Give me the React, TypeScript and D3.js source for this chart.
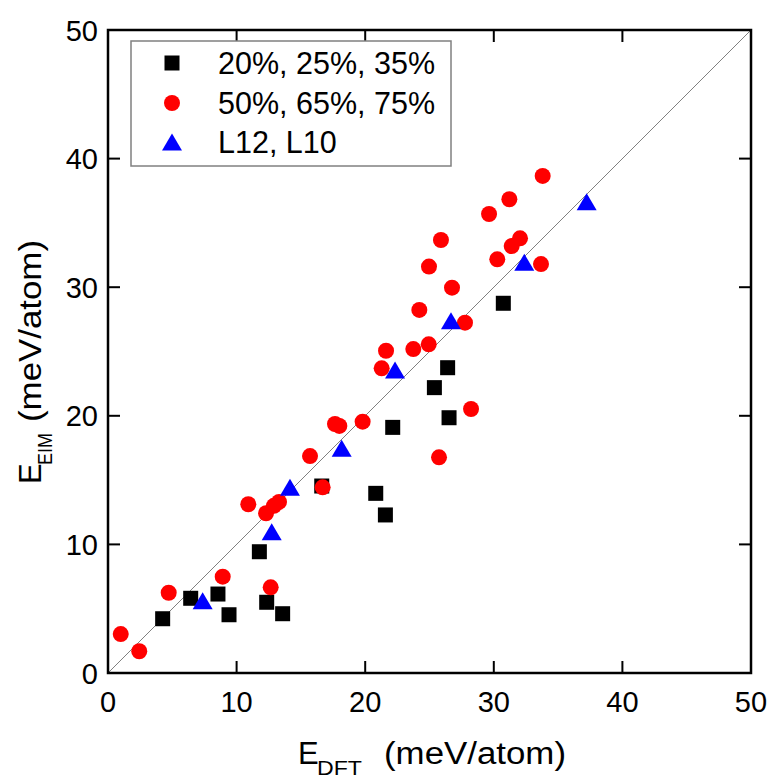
import React from "react";
import * as d3 from "d3";

const squaresX = [4.25, 6.43, 8.55, 9.41, 12.34, 13.58, 11.77, 16.62, 20.82, 21.57, 22.14, 25.38, 26.41, 26.52, 30.74];
const squaresY = [4.22, 5.81, 6.14, 4.53, 5.5, 4.61, 9.43, 14.54, 13.97, 12.29, 19.1, 22.19, 23.74, 19.85, 28.75];

const circlesX = [0.99, 2.43, 4.72, 8.92, 12.65, 12.29, 12.9, 13.3, 10.91, 16.69, 15.71, 17.65, 17.99, 19.8, 21.28, 21.62, 23.74, 24.94, 24.21, 27.76, 28.23, 25.74, 26.75, 24.96, 25.89, 29.63, 31.21, 33.8, 30.27, 31.39, 32.04, 33.67];
const circlesY = [3.03, 1.69, 6.24, 7.49, 6.66, 12.42, 13.0, 13.3, 13.12, 14.44, 16.87, 19.36, 19.21, 19.54, 23.69, 25.06, 25.19, 25.56, 28.23, 27.24, 20.53, 16.77, 29.96, 31.6, 33.67, 35.69, 36.84, 38.65, 32.17, 33.2, 33.8, 31.8];

const trianglesX = [7.36, 12.73, 14.15, 18.17, 22.32, 26.67, 32.37, 37.22];
const trianglesY = [5.62, 10.99, 14.44, 17.47, 23.56, 27.4, 31.94, 36.65];

const ticks = [0, 10, 20, 30, 40, 50];
const legendLabels = ["20%, 25%, 35%", "50%, 65%, 75%", "L12, L10"];

const W = 772;
const H = 779;
const L = 108, R = 751, T = 30, B = 673;
const FONT = "'Liberation Sans', Arial, sans-serif";

function Square({ cx, cy, s = 15 }: { cx: number; cy: number; s?: number }) {
  return <rect x={cx - s / 2} y={cy - s / 2} width={s} height={s} fill="#000" />;
}
function Circle({ cx, cy }: { cx: number; cy: number }) {
  return <circle cx={cx} cy={cy} r={8} fill="#ff0000" />;
}
function Tri({ cx, cy }: { cx: number; cy: number }) {
  const w = 20, h = 17;
  return (
    <path
      d={`M${cx},${cy - h / 2}L${cx + w / 2},${cy + h / 2}L${cx - w / 2},${cy + h / 2}Z`}
      fill="#0000ff"
    />
  );
}

export default function App() {
  const x = d3.scaleLinear().domain([0, 50]).range([L, R]);
  const y = d3.scaleLinear().domain([0, 50]).range([B, T]);
  const tl = 12;
  const diag = d3.line<number>().x((d) => x(d)).y((d) => y(d))([0, 50]) || "";

  const legendY = [63, 103, 142];

  return (
    <svg
      width={W}
      height={H}
      style={{ position: "absolute", left: 0, top: 0, background: "#fff" }}
      fontFamily={FONT}
    >
      <rect x={0} y={0} width={W} height={H} fill="#fff" />
      {/* diagonal */}
      <path d={diag} stroke="#808080" strokeWidth={1} fill="none" />

      {/* markers */}
      {squaresX.map((v, i) => (
        <Square key={"s" + i} cx={x(v)} cy={y(squaresY[i])} />
      ))}
      {circlesX.map((v, i) => (
        <Circle key={"c" + i} cx={x(v)} cy={y(circlesY[i])} />
      ))}
      {trianglesX.map((v, i) => (
        <Tri key={"t" + i} cx={x(v)} cy={y(trianglesY[i])} />
      ))}

      {/* ticks */}
      {ticks.slice(1, -1).map((t) => (
        <g key={"tk" + t} stroke="#000" strokeWidth={2}>
          <line x1={x(t)} x2={x(t)} y1={B} y2={B - tl} />
          <line x1={x(t)} x2={x(t)} y1={T} y2={T + tl} />
          <line x1={L} x2={L + tl} y1={y(t)} y2={y(t)} />
          <line x1={R} x2={R - tl} y1={y(t)} y2={y(t)} />
        </g>
      ))}
      {/* frame */}
      <rect x={L} y={T} width={R - L} height={B - T} fill="none" stroke="#000" strokeWidth={2.5} />

      {/* tick labels */}
      {ticks.map((t) => (
        <text key={"xl" + t} x={x(t)} y={712} fontSize={29} textAnchor="middle" fill="#000">
          {t}
        </text>
      ))}
      {ticks.map((t) => (
        <text key={"yl" + t} x={98} y={y(t) + 10.5} fontSize={29} textAnchor="end" fill="#000">
          {t}
        </text>
      ))}

      {/* x title */}
      <text x={298} y={764} fontSize={31} fill="#000">E</text>
      <text x={317} y={775} fontSize={20} fill="#000" textLength={45} lengthAdjust="spacingAndGlyphs">DFT</text>
      <text x={384} y={764} fontSize={31} fill="#000" textLength={182} lengthAdjust="spacingAndGlyphs">(meV/atom)</text>

      {/* y title */}
      <g transform="translate(41,0) rotate(-90)">
        <text x={-484} y={0} fontSize={31} fill="#000">E</text>
        <text x={-465} y={11} fontSize={20} fill="#000" textLength={32} lengthAdjust="spacingAndGlyphs">EIM</text>
        <text x={-422} y={0} fontSize={31} fill="#000" textLength={182} lengthAdjust="spacingAndGlyphs">(meV/atom)</text>
      </g>

      {/* legend */}
      <rect x={131} y={41} width={320} height={125} fill="#fff" stroke="#808080" strokeWidth={1.5} />
      <Square cx={172} cy={legendY[0]} />
      <Circle cx={172} cy={legendY[1]} />
      <Tri cx={172} cy={legendY[2]} />
      {legendLabels.map((lab, i) => (
        <text key={lab} x={218} y={legendY[i] + 11} fontSize={30.5} fill="#000">
          {lab}
        </text>
      ))}
    </svg>
  );
}
